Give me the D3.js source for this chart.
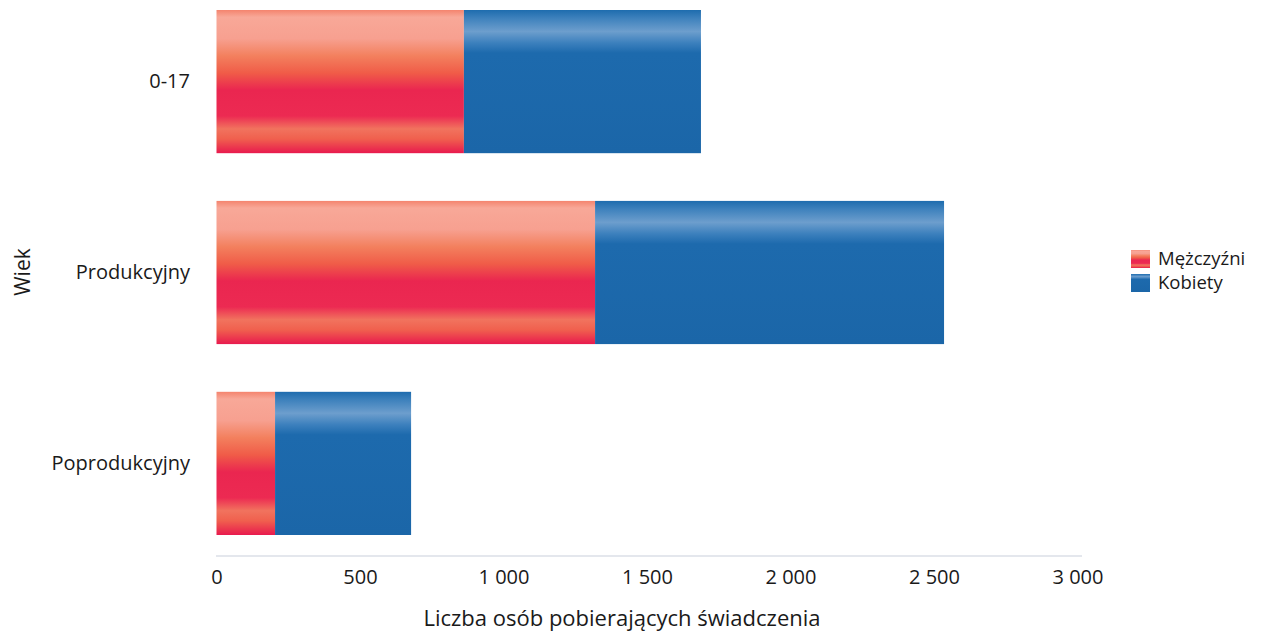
<!DOCTYPE html>
<html><head><meta charset="utf-8">
<script src="https://cdn.jsdelivr.net/npm/d3@7"></script>
<style>body{margin:0;background:#fff}svg{display:block}text{font-family:"Open Sans","Noto Sans",sans-serif;fill:#1a1a1a}</style>
</head><body>
<svg id="c" width="1271" height="637"></svg>
<script>
const categories = ["0-17", "Produkcyjny", "Poprodukcyjny"];
const men = [862, 1319, 204];
const women = [826, 1216, 474];
const seriesNames = ["Mężczyźni", "Kobiety"];
const xTicks = [0, 500, 1000, 1500, 2000, 2500, 3000];

const svg = d3.select("#c");
const defs = svg.append("defs");
const gR = defs.append("linearGradient").attr("id","gr").attr("x1",0).attr("x2",0).attr("y1",0).attr("y2",1);
[[0,"#f4846e"],[0.05,"#f8a898"],[0.2,"#f7a090"],[0.32,"#f3805e"],[0.44,"#f05c48"],[0.56,"#ea2650"],[0.74,"#ec2a52"],[0.83,"#f1735e"],[0.9,"#f0604e"],[1,"#e81a4e"]]
  .forEach(s=>gR.append("stop").attr("offset",s[0]).attr("stop-color",s[1]));
const gB = defs.append("linearGradient").attr("id","gb").attr("x1",0).attr("x2",0).attr("y1",0).attr("y2",1);
[[0,"#1e6cae"],[0.06,"#3f82bd"],[0.15,"#6d9ecd"],[0.23,"#3c80bd"],[0.3,"#1d6aad"],[1,"#1b66a8"]]
  .forEach(s=>gB.append("stop").attr("offset",s[0]).attr("stop-color",s[1]));

const x = d3.scaleLinear().domain([0,3000]).range([216.5,1077.5]);
const y = d3.scaleBand().domain(categories).range([10,535]).paddingInner(0.25).paddingOuter(0);

const data = categories.map((c,i)=>({cat:c, m:men[i], w:women[i]}));
const stack = d3.stack().keys(["m","w"])(data);
const fills = ["url(#gr)","url(#gb)"];
stack.forEach((layer,li)=>{
  svg.append("g").selectAll("rect").data(layer).join("rect")
    .attr("x",d=>x(d[0])).attr("width",d=>x(d[1])-x(d[0]))
    .attr("y",d=>y(d.data.cat)).attr("height",y.bandwidth())
    .attr("fill",fills[li]);
});

// x axis
svg.append("line").attr("x1",216).attr("x2",1082).attr("y1",556).attr("y2",556).attr("stroke","#c9cfdc").attr("stroke-width",1.2);
const xa = svg.append("g").attr("transform","translate(0,556)")
  .call(d3.axisBottom(x).tickValues(xTicks).tickSize(0).tickPadding(14)
    .tickFormat(d=>d3.format(",")(d).replace(/,/g," ")));
xa.select(".domain").remove();
xa.selectAll("text").attr("font-size",20).attr("fill","#1a1a1a").attr("font-family",'"Open Sans","Noto Sans",sans-serif');

// y axis
const ya = svg.append("g").attr("transform","translate(217,0)")
  .call(d3.axisLeft(y).tickSize(0).tickPadding(27));
ya.select(".domain").remove();
ya.selectAll("text").attr("font-size",20).attr("fill","#1a1a1a").attr("font-family",'"Open Sans","Noto Sans",sans-serif');

svg.append("text").attr("x",622).attr("y",626).attr("text-anchor","middle").attr("font-size",22).text("Liczba osób pobierających świadczenia");
svg.append("text").attr("transform","translate(30,272) rotate(-90)").attr("text-anchor","middle").attr("font-size",21).text("Wiek");

// legend
const lg = svg.append("g").attr("transform","translate(1131,250)");
seriesNames.forEach((n,i)=>{
  lg.append("rect").attr("x",0).attr("y",i*24).attr("width",19).attr("height",18).attr("fill",fills[i]);
  lg.append("text").attr("x",27).attr("y",i*24+15).attr("font-size",18.5).text(n);
});
</script>
</body></html>
